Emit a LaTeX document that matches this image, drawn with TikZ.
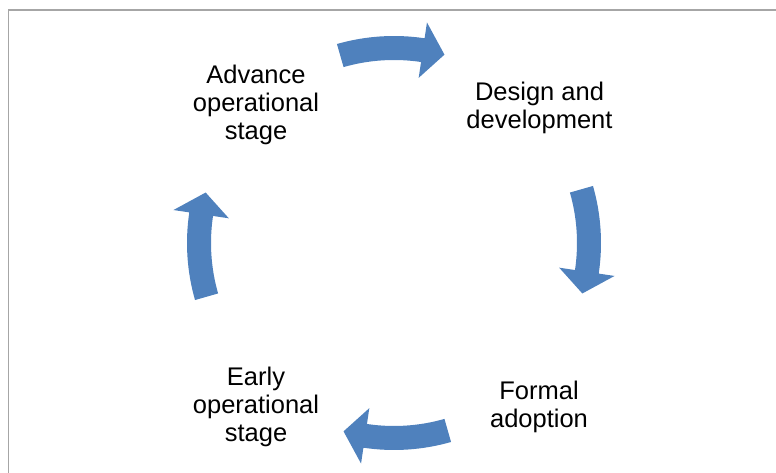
\documentclass[tikz,border=0pt]{standalone}
\usepackage{fontspec}
\setmainfont{Liberation Sans}
\usetikzlibrary{calc}
\definecolor{arrowblue}{HTML}{4F81BD}
\definecolor{framegray}{HTML}{A6A6A6}
\begin{document}
\begin{tikzpicture}[x=1pt,y=1pt,
    stage/.style={align=center,inner sep=0pt,font=\fontsize{25.5}{28}\selectfont}]
        \useasboundingbox (0,0) rectangle (776,473);
        \draw[framegray,line width=1.5pt] (8.5,0) -- (8.5,463) -- (776,463);
        \coordinate (O) at (394,230);
        \node[stage] (A) at (256,368) {Advance\\operational\\stage};
        \node[stage] (D) at (539.5,365.5) {Design and\\development};
        \node[stage] (F) at (539,66.5) {Formal\\adoption};
        \node[stage] (E) at (256,66) {Early\\operational\\stage};
        \begin{scope}[shift={(O)}]
        \foreach \m in {90,0,-90,-180} {
            \fill[arrowblue] (\m+16:207) arc[start angle=\m+16, end angle=\m-8.5, radius=207]
                -- (\m-8.5:223) -- (\m-15:195) -- (\m-8.5:167) -- (\m-8.5:183)
                arc[start angle=\m-8.5, end angle=\m+16, radius=183] -- cycle;
        }
        \end{scope}
    \end{tikzpicture}
\end{document}
